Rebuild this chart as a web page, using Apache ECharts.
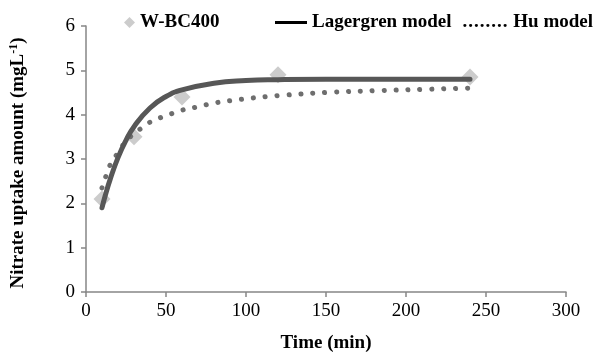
<!DOCTYPE html>
<html>
<head>
<meta charset="utf-8">
<script src="https://cdn.jsdelivr.net/npm/echarts@6/dist/echarts.min.js"></script>
<style>html,body{margin:0;padding:0;background:#fff}#c{width:601px;height:358px}</style>
</head>
<body>
<div id="c"></div>
<script>
// Experimental data (W-BC400)
const expTime = [10, 30, 60, 120, 240];
const expQ = [2.1, 3.5, 4.4, 4.9, 4.85];
// Lagergren model curve
const lagTime = [10, 12, 15, 20, 25, 30, 40, 50, 60, 80, 100, 120, 150, 180, 210, 240];
const lagQ = [1.9, 2.17, 2.53, 3.03, 3.42, 3.73, 4.15, 4.41, 4.56, 4.71, 4.77, 4.79, 4.8, 4.8, 4.8, 4.8];
// Hu model curve
const huTime = [10, 12.5, 15, 19, 23, 28, 34, 40, 47, 54, 61, 69, 76, 83, 91, 98, 105, 113, 120, 150, 180, 210, 240];
const huQ = [2.35, 2.62, 2.86, 3.09, 3.31, 3.51, 3.68, 3.83, 3.94, 4.03, 4.11, 4.17, 4.23, 4.28, 4.32, 4.35, 4.38, 4.41, 4.43, 4.5, 4.54, 4.57, 4.6];
// Axis ticks
const xTicks = [0, 50, 100, 150, 200, 250, 300];
const yTicks = [0, 1, 2, 3, 4, 5, 6];

const zip = (a, b) => a.map((v, i) => [v, b[i]]);
const FONT = "'Liberation Serif', 'Times New Roman', serif";
const FS = 19;
const LFS = 19;
const legendText = { fontFamily: FONT, fontSize: LFS, fontWeight: 'bold', color: '#000',
  rich: {
    d: { fontFamily: FONT, fontSize: LFS, fontWeight: 'bold', color: '#000', padding: [0, 1, 0, 0] },
    t: { fontFamily: FONT, fontSize: LFS, fontWeight: 'bold', color: '#000' }
  } };
const chart = echarts.init(document.getElementById('c'));
chart.setOption({
  animation: false,
  backgroundColor: '#fff',
  textStyle: { fontFamily: FONT },
  grid: { left: 86, right: 35, top: 26, bottom: 66 },
  legend: [
    { left: 119, top: 8, itemWidth: 11, itemHeight: 11, itemGap: 0, textStyle: legendText,
      data: [{ name: 'W-BC400', icon: 'diamond' }] },
    { left: 270, top: 8, itemWidth: 32, itemHeight: 3, itemGap: 0, textStyle: legendText,
      data: [{ name: 'Lagergren model', icon: 'rect', itemStyle: { color: '#000' } }] },
    { right: 3, top: 8, itemWidth: 0, itemHeight: 3, itemGap: 0, align: 'left',
      formatter: n => '{d|.}'.repeat(8) + '{t| ' + n + '}', textStyle: legendText,
      data: [{ name: 'Hu model', icon: 'none' }] }
  ],
  xAxis: {
    type: 'value', min: xTicks[0], max: xTicks[xTicks.length - 1], interval: 50,
    name: 'Time (min)', nameLocation: 'middle', nameGap: 42,
    nameTextStyle: { fontFamily: FONT, fontSize: FS, fontWeight: 'bold', color: '#000' },
    axisLine: { lineStyle: { color: '#868686', width: 1.5 } },
    axisTick: { show: true, inside: false, length: 5, lineStyle: { color: '#868686', width: 1.5 } },
    axisLabel: { fontFamily: FONT, fontSize: FS, color: '#000', margin: 10 },
    splitLine: { show: false }
  },
  yAxis: {
    type: 'value', min: yTicks[0], max: yTicks[yTicks.length - 1], interval: 1,
    name: 'Nitrate uptake amount (mgL{sup|-1})', nameLocation: 'middle', nameGap: 57,
    nameTextStyle: { fontFamily: FONT, fontSize: FS, fontWeight: 'bold', color: '#000',
      padding: [0, 8, 0, 0],
      rich: { sup: { fontFamily: FONT, fontSize: 12, fontWeight: 'bold', color: '#000', padding: [0, 0, 9, 0] } } },
    axisLine: { show: true, lineStyle: { color: '#868686', width: 1.5 } },
    axisTick: { show: true, inside: false, length: 5, lineStyle: { color: '#868686', width: 1.5 } },
    axisLabel: { fontFamily: FONT, fontSize: FS, color: '#000', margin: 11 },
    splitLine: { show: false }
  },
  series: [
    { name: 'W-BC400', type: 'scatter', symbol: 'diamond', symbolSize: 17,
      itemStyle: { color: '#BFBFBF' }, data: zip(expTime, expQ), z: 1 },
    { name: 'Hu model', type: 'line', smooth: true, symbol: 'none',
      lineStyle: { color: '#6E6E6E', width: 5, type: [0.1, 11.8], cap: 'round' },
      itemStyle: { color: '#6E6E6E' }, data: zip(huTime, huQ), z: 2 },
    { name: 'Lagergren model', type: 'line', smooth: true, symbol: 'none',
      lineStyle: { color: '#575757', width: 5, cap: 'round' },
      itemStyle: { color: '#575757' }, data: zip(lagTime, lagQ), z: 3 }
  ]
});
</script>
</body>
</html>
